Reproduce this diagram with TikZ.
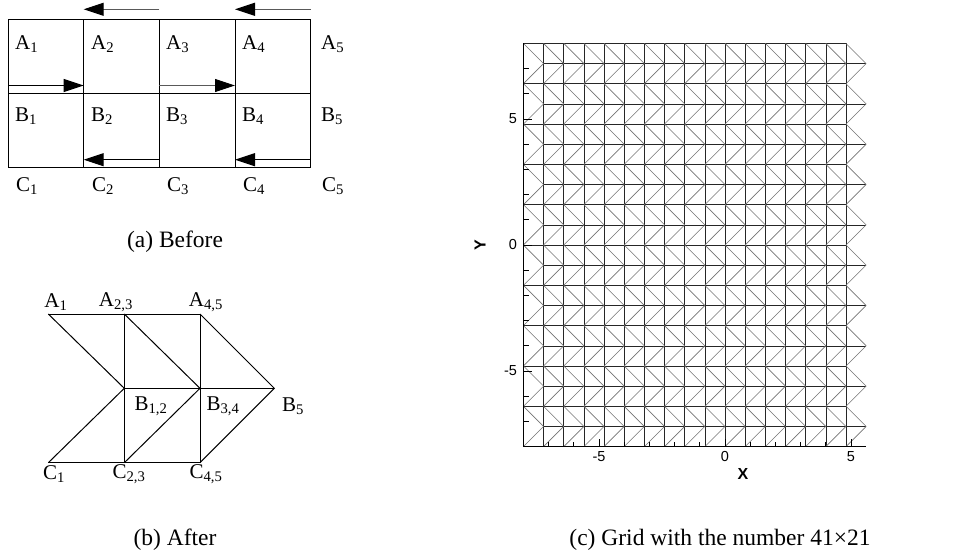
\documentclass[tikz,border=0pt]{standalone}
\usepackage{fontspec}
\setmainfont{Liberation Serif}
\newfontfamily\axisfont{Liberation Sans}
\usetikzlibrary{arrows.meta,positioning,calc}

\begin{document}
\begin{tikzpicture}[
    x=1pt, y=-1pt,
    every node/.style={inner sep=0pt, font=\fontsize{21}{21}\selectfont},
    cellLine/.style={line width=1pt, draw=black},
    flowArrow/.style={-{Triangle[length=20pt, width=13pt, black]}, line width=1pt, draw=black!65},
    meshLine/.style={line width=0.6pt, draw=black!85},
    diagLine/.style={line width=0.6pt, draw=black!55},
    axisLine/.style={line width=1.3pt, draw=black},
    tickLabel/.style={font=\axisfont\fontsize{14.5}{14.5}\selectfont},
    axisTitle/.style={font=\axisfont\bfseries\fontsize{16}{16}\selectfont},
    captionText/.style={font=\fontsize{23.5}{23.5}\selectfont}
]
\useasboundingbox (0,0) rectangle (956,557);

% (a) Before
\foreach \i/\xx in {1/8, 2/83.7, 3/159.3, 4/235, 5/310.7} {
    \coordinate (top\i) at (\xx,19);
    \coordinate (mid\i) at (\xx,93.3);
    \coordinate (bot\i) at (\xx,167.3);
    \coordinate (upA\i) at (\xx,9.3);
    \coordinate (lowA\i) at (\xx,85.5);
    \coordinate (lowB\i) at (\xx,159.7);
}
\draw [cellLine] (top1) rectangle (bot5);
\draw [cellLine] (mid1) -- (mid5);
\foreach \i in {2,3,4}
    \draw [cellLine] (top\i) -- (bot\i);

\foreach \i/\xx in {1/15, 2/91, 3/166, 4/242, 5/321} {
    \node [anchor=west] (labA\i) at (\xx,44) {A\textsubscript{\i}};
    \node [anchor=west] (labB\i) at (\xx,116) {B\textsubscript{\i}};
    \node [anchor=west] (labC\i) at (\xx+1,186) {C\textsubscript{\i}};
}

% Arrows
\draw [flowArrow] (upA3) -- (upA2);
\draw [flowArrow] (upA5) -- (upA4);
\draw [flowArrow, draw=black] (lowA1) -- (lowA2);
\draw [flowArrow] (lowA3) -- (lowA4);
\draw [flowArrow, draw=black] (lowB3) -- (lowB2);
\draw [flowArrow, draw=black] (lowB5) -- (lowB4);

\node [captionText] (capA) at (175,242) {(a) Before};

% (b) After
\coordinate (a1) at (48.3,314);
\coordinate (a23) at (124.3,314);
\coordinate (a45) at (200,314);
\coordinate (b12) at (124.3,388.3);
\coordinate (b34) at (200,388.3);
\coordinate (b5) at (274.3,388.3);
\coordinate (c1) at (48.3,462.7);
\coordinate (c23) at (124.3,462.7);
\coordinate (c45) at (200,462.7);

\draw [cellLine] (a1) -- (a45);
\draw [cellLine] (b12) -- (b5);
\draw [cellLine] (c1) -- (c45);
\draw [cellLine] (a23) -- (c23);
\draw [cellLine] (a45) -- (c45);
\draw [cellLine] (a1) -- (b12) -- (c1);
\draw [cellLine] (a23) -- (b34) -- (c23);
\draw [cellLine] (a45) -- (b5) -- (c45);

\node (labA1) at (56,302) {A\textsubscript{1}};
\node (labA23) at (116,302) {A\textsubscript{2,3}};
\node (labA45) at (206,302) {A\textsubscript{4,5}};
\node (labB12) at (151,406) {B\textsubscript{1,2}};
\node (labB34) at (223,406) {B\textsubscript{3,4}};
\node (labB5) at (293,406) {B\textsubscript{5}};
\node (labC1) at (54,474) {C\textsubscript{1}};
\node (labC23) at (129,474) {C\textsubscript{2,3}};
\node (labC45) at (206,474) {C\textsubscript{4,5}};

\node [captionText] (capB) at (175,540) {(b) After};

% (c) Grid
\begin{scope}[shift={(725,245)}, x=25.2pt, y=25.2pt]
    % horizontal lines
    \foreach \j in {0,...,20} {
        \pgfmathsetmacro\yy{-8+0.8*\j}
        \ifodd\j
            \draw [meshLine] (-7.2,\yy) -- (5.6,\yy);
        \else
            \draw [meshLine] (-8,\yy) -- (4.8,\yy);
        \fi
    }
    % vertical lines
    \foreach \k in {1,...,16}
        \draw [meshLine] ({-8+0.8*\k},-8) -- ({-8+0.8*\k},8);
    % diagonals
    \foreach \j in {0,...,19} {
        \pgfmathsetmacro\ya{-8+0.8*(\j+mod(\j,2))}
        \pgfmathsetmacro\yb{-8+0.8*(\j+1-mod(\j,2))}
        \foreach \k in {0,...,16}
            \draw [diagLine] ({-8+0.8*\k},\ya) -- ({-7.2+0.8*\k},\yb);
    }
    % axes
    \coordinate (origin) at (-8,-8);
    \coordinate (ytop) at (-8,8);
    \coordinate (xend) at (5.6,-8);
    \draw [axisLine] (ytop) -- (origin) -- (xend);
    \foreach \v in {-7,...,7} {
        \draw [line width=0.8pt] (-8,\v) -- ++(0.22,0);
    }
    \foreach \v in {-7,...,5} {
        \draw [line width=0.8pt] (\v,-8) -- ++(0,0.18);
    }
    \foreach \v in {-5,0,5} {
        \draw [line width=1pt] (-8,\v) -- ++(0.36,0);
        \draw [line width=1pt] (\v,-8) -- ++(0,0.32);
        \node [tickLabel, anchor=east] (ytick\v) at (-8.25,\v) {\v};
        \node [tickLabel] (xtick\v) at (\v,-8.41) {\v};
    }
    \node [axisTitle, rotate=90] (ylab) at (-9.72,0) {Y};
    \node [axisTitle] (xlab) at (0.71,-9.09) {X};
\end{scope}

\node [captionText] (capC) at (720,540) {(c) Grid with the number 41×21};

\end{tikzpicture}
\end{document}
